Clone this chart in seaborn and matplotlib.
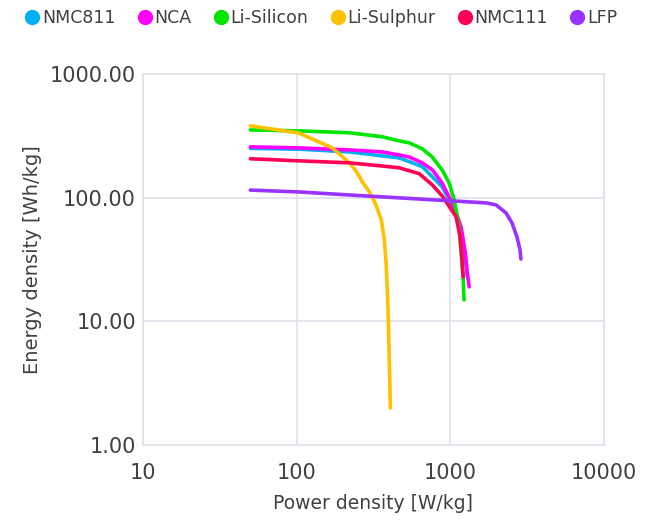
import pandas as pd
import seaborn as sns
import matplotlib.pyplot as plt
from matplotlib.lines import Line2D
from matplotlib.ticker import FixedLocator, FuncFormatter, NullLocator

# values (power W/kg, energy Wh/kg)
series_names = ["NMC811", "NCA", "Li-Silicon", "Li-Sulphur", "NMC111", "LFP"]
series_colors = ["#00b0f0", "#ff00ff", "#00e600", "#ffc000", "#ff0055", "#9933ff"]

nmc811_p = [50, 105, 221, 467, 658, 888, 1062, 1178, 1256, 1293]
nmc811_e = [250, 246, 234, 209, 178, 122, 80, 53, 31.5, 22.9]

nca_p = [50, 105, 221, 361, 467, 542, 658, 764, 888, 985, 1062, 1178, 1256, 1293, 1330]
nca_e = [257, 252, 243, 234, 221, 213, 191, 168, 131, 101, 84, 58, 35.7, 24.6, 19]

silicon_p = [50, 105, 221, 361, 467, 542, 658, 764, 888, 985, 1062, 1144, 1178, 1214, 1232]
silicon_e = [352, 346, 334, 310, 287, 277, 248, 213, 167, 131, 96, 58, 35.7, 22.9, 14.9]

sulphur_p = [50, 103, 171, 221, 245, 268, 298, 327, 356, 373, 383, 390, 396, 401, 408]
sulphur_e = [380, 333, 252, 191, 163, 134, 111, 89, 66, 45.5, 29, 17.9, 10.3, 5.15, 2.0]

nmc111_p = [50, 105, 221, 361, 467, 629, 764, 888, 985, 1093, 1162, 1196, 1214]
nmc111_e = [206, 198, 191, 180, 174, 156, 127, 103, 85, 70, 48, 31.3, 22.9]

lfp_p = [50, 105, 221, 467, 1030, 1714, 1990, 2311, 2528, 2723, 2851, 2891]
lfp_e = [115, 111, 105, 99.5, 94, 90.6, 87.3, 75.2, 62.4, 48, 37.8, 31.9]

x_ticks = [10, 100, 1000, 10000]
y_ticks = [1, 10, 100, 1000]

all_p = [nmc811_p, nca_p, silicon_p, sulphur_p, nmc111_p, lfp_p]
all_e = [nmc811_e, nca_e, silicon_e, sulphur_e, nmc111_e, lfp_e]

frames = []
for name, p, e in zip(series_names, all_p, all_e):
    frames.append(pd.DataFrame({"power": p, "energy": e, "cell": name}))
df = pd.concat(frames, ignore_index=True)

sns.set_style("white")
plt.rcParams["font.family"] = ["DejaVu Sans"]

text_col = "#404040"
grid_col = "#dfe2ea"

fig = plt.figure(figsize=(6.62, 5.2), dpi=100)
ax = fig.add_axes([0.216, 0.144, 0.696, 0.714])

sns.lineplot(data=df, x="power", y="energy", hue="cell", hue_order=series_names,
             palette=series_colors, sort=False, estimator=None, linewidth=2.6,
             legend=False, ax=ax)

ax.set_xscale("log")
ax.set_yscale("log")
ax.set_xlim(10, 10000)
ax.set_ylim(1, 1000)
ax.xaxis.set_major_locator(FixedLocator(x_ticks))
ax.yaxis.set_major_locator(FixedLocator(y_ticks))
ax.xaxis.set_minor_locator(NullLocator())
ax.yaxis.set_minor_locator(NullLocator())
ax.xaxis.set_major_formatter(FuncFormatter(lambda v, _: f"{v:.0f}"))
ax.yaxis.set_major_formatter(FuncFormatter(lambda v, _: f"{v:.2f}"))
ax.grid(True, color=grid_col, linewidth=1.2)
ax.set_axisbelow(True)
for s in ax.spines.values():
    s.set_color(grid_col)
    s.set_linewidth(1.2)
ax.tick_params(length=0, labelsize=15, colors=text_col)
ax.tick_params(axis="x", pad=13)
ax.tick_params(axis="y", pad=5)

ax.set_xlabel("Power density [W/kg]", fontsize=13.5, color=text_col, labelpad=8)
ax.set_ylabel("Energy density [Wh/kg]", fontsize=14, color=text_col, labelpad=6)

handles = [Line2D([], [], marker="o", linestyle="", markersize=10, color=c) for c in series_colors]
fig.legend(handles, series_names, loc="upper left", bbox_to_anchor=(0.012, 1.012), ncol=6,
           frameon=False, fontsize=12.5, handletextpad=0.05, columnspacing=1.2,
           handlelength=1.0, labelcolor=text_col)

fig.savefig("out.png", dpi=100)
